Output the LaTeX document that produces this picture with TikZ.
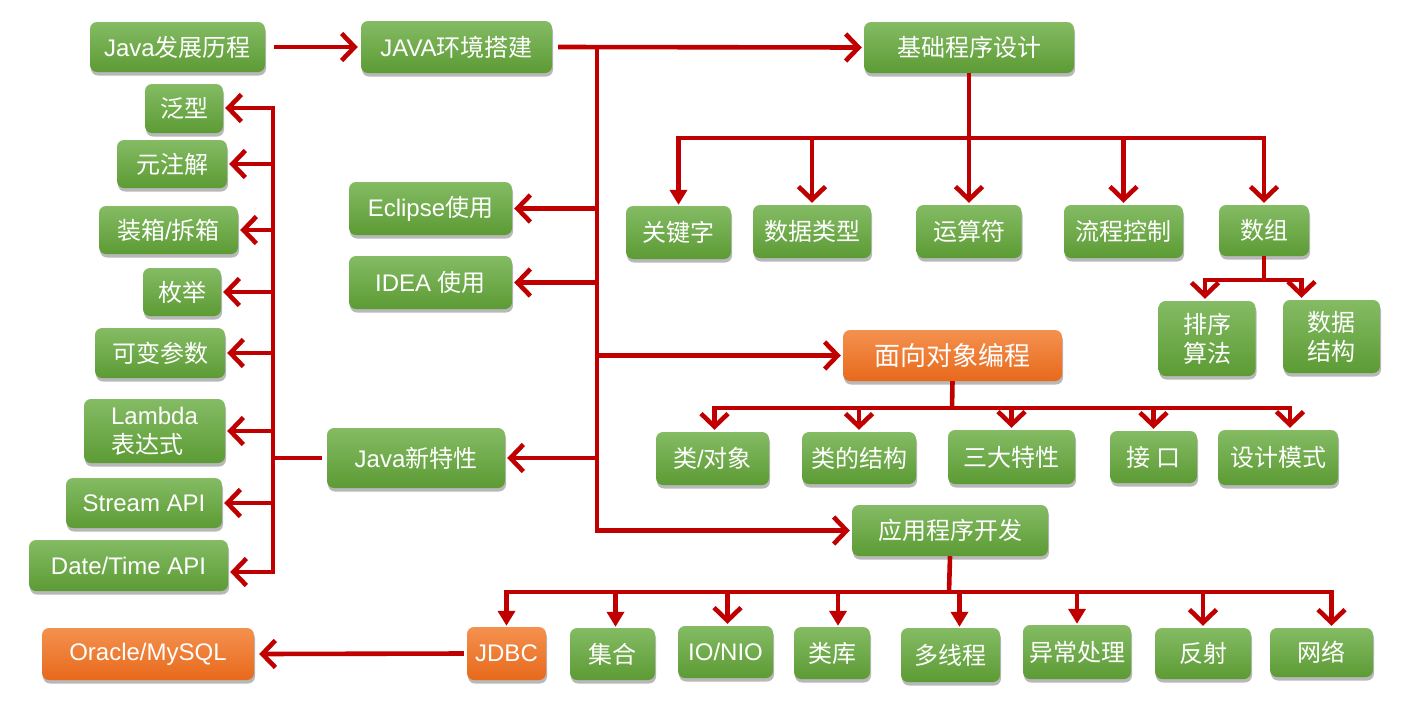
\documentclass[tikz,border=0pt]{standalone}
\usepackage{fontspec}
\setmainfont{Liberation Sans}
\newfontfamily\zhfont{Noto Sans CJK SC}
\newcommand\zh[1]{{\zhfont #1}}
\usetikzlibrary{arrows.meta,shadows}
\definecolor{redline}{HTML}{C00000}
\definecolor{gtop}{HTML}{84BB64}
\definecolor{gbot}{HTML}{5C9B34}
\definecolor{otop}{HTML}{F4914F}
\definecolor{obot}{HTML}{E7691B}
\tikzset{
 box/.style={rounded corners=7pt, top color=gtop, bottom color=gbot, draw=none, text=white,
   inner sep=0pt, align=center, font=\fontsize{24}{29}\selectfont,
   drop shadow={shadow xshift=1pt, shadow yshift=-3.5pt, opacity=0.28, fill=black}},
 obox/.style={box, top color=otop, bottom color=obot},
 wire/.style={draw=redline, line width=4.6pt},
 barb/.style={wire, -{Straight Barb[length=13pt,width=27pt,line width=4.6pt]}, shorten >=2pt},
 tri/.style={wire, -{Triangle[length=15pt,width=17pt]}, shorten >=1pt},
}
\begin{document}
\begin{tikzpicture}[x=1pt,y=-1pt]
\useasboundingbox[fill=white] (0,0) rectangle (1407,705);

% top row
\node[box, minimum width=175pt, minimum height=50pt] (hist) at (177.5,47) {Java\zh{发展历程}};
\node[box, minimum width=191pt, minimum height=52pt] (env) at (456.5,47) {JAVA\zh{环境搭建}};
\node[box, minimum width=210pt, minimum height=51pt] (basic) at (969,47.5) {\zh{基础程序设计}};

% left column
\node[box, minimum width=78pt, minimum height=49pt] (fx) at (184,108.5) {\zh{泛型}};
\node[box, minimum width=110pt, minimum height=48pt] (yzj) at (172,164) {\zh{元注解}};
\node[box, minimum width=139pt, minimum height=48pt] (zx) at (168.5,230) {\zh{装箱}/\zh{拆箱}};
\node[box, minimum width=78pt, minimum height=48pt] (mj) at (182,292) {\zh{枚举}};
\node[box, minimum width=130pt, minimum height=50pt] (kb) at (160,353) {\zh{可变参数}};
\node[box, minimum width=141pt, minimum height=64pt, align=left] (lam) at (154.5,431) {Lambda\\\zh{表达式}};
\node[box, minimum width=156pt, minimum height=50pt] (st) at (144,503) {Stream API};
\node[box, minimum width=199pt, minimum height=51pt] (dt) at (128.5,565.5) {Date/Time API};

% middle column
\node[box, minimum width=163pt, minimum height=53pt] (ecl) at (430.5,208.5) {Eclipse\zh{使用}};
\node[box, minimum width=163pt, minimum height=53pt] (idea) at (430.5,282.5) {IDEA \zh{使用}};
\node[box, minimum width=178pt, minimum height=60pt] (newf) at (416,458) {Java\zh{新特性}};

% basic programming
\node[box, minimum width=105pt, minimum height=53pt] (kw) at (678.5,232.5) {\zh{关键字}};
\node[box, minimum width=118pt, minimum height=53pt] (dtype) at (812,231.5) {\zh{数据类型}};
\node[box, minimum width=105pt, minimum height=53pt] (ops) at (969,231.5) {\zh{运算符}};
\node[box, minimum width=119pt, minimum height=53pt] (flow) at (1123.5,231.5) {\zh{流程控制}};
\node[box, minimum width=90pt, minimum height=51pt] (arr) at (1264,230.5) {\zh{数组}};
\node[box, minimum width=97pt, minimum height=75pt] (sort) at (1207,338.5) {\zh{排序}\\\zh{算法}};
\node[box, minimum width=97pt, minimum height=73pt] (ds) at (1331.5,336.5) {\zh{数据}\\\zh{结构}};

% OOP
\node[obox, minimum width=219pt, minimum height=51pt, font=\fontsize{26}{30}\selectfont] (oop) at (952.5,355.5) {\zh{面向对象编程}};
\node[box, minimum width=113pt, minimum height=53pt] (cls) at (712.5,458.5) {\zh{类}/\zh{对象}};
\node[box, minimum width=114pt, minimum height=52pt] (cstr) at (859,458) {\zh{类的结构}};
\node[box, minimum width=127pt, minimum height=54pt] (three) at (1011.5,457) {\zh{三大特性}};
\node[box, minimum width=87pt, minimum height=52pt] (intf) at (1153.5,457) {\zh{接 口}};
\node[box, minimum width=120pt, minimum height=55pt] (dp) at (1278,457.5) {\zh{设计模式}};

% application development
\node[box, minimum width=196pt, minimum height=51pt] (app) at (950,530.5) {\zh{应用程序开发}};
\node[obox, minimum width=79pt, minimum height=53pt] (jdbc) at (506.5,653.5) {JDBC};
\node[box, minimum width=85pt, minimum height=52pt] (coll) at (612.5,654) {\zh{集合}};
\node[box, minimum width=95pt, minimum height=52pt] (io) at (725.5,652) {IO/NIO};
\node[box, minimum width=76pt, minimum height=52pt] (lib) at (832,653) {\zh{类库}};
\node[box, minimum width=99pt, minimum height=54pt] (thr) at (950.5,655) {\zh{多线程}};
\node[box, minimum width=108pt, minimum height=54pt] (exc) at (1077,652) {\zh{异常处理}};
\node[box, minimum width=96pt, minimum height=51pt] (refl) at (1203,653.5) {\zh{反射}};
\node[box, minimum width=103pt, minimum height=49pt] (net) at (1321.5,652.5) {\zh{网络}};
\node[obox, minimum width=212pt, minimum height=52pt] (ora) at (148,654) {Oracle/MySQL};

% junction coordinates
\coordinate (T1) at (597,47);
\coordinate (L1) at (273,108);
\coordinate (L2) at (273,572);
\coordinate (B1) at (969,138);
\coordinate (A1) at (1264,280);
\coordinate (O1) at (952,408);
\coordinate (P1) at (949,592);

% top connectors
\draw[barb] ([xshift=9pt]hist.east) -- ([xshift=-1pt]env.west);
\draw[barb] ([xshift=6pt]env.east) -- (basic.west);

% main trunk
\draw[barb] (T1) |- (app.west);
\draw[barb] (T1 |- ecl.east) -- (ecl.east);
\draw[barb] (T1 |- idea.east) -- (idea.east);
\draw[barb] (T1 |- newf.east) -- (newf.east);
\draw[barb] (T1 |- oop.west) -- (oop.west);

% new features trunk
\draw[wire] ([xshift=-5pt]newf.west) -- (L1 |- newf.west);
\draw[barb] (L2) -- (L1) -- (L1 -| fx.east);
\draw[barb] (L1) -- (L2) -- (L2 -| dt.east);
\draw[barb] (L1 |- yzj.east) -- (yzj.east);
\draw[barb] (L1 |- zx.east) -- (zx.east);
\draw[barb] (L1 |- mj.east) -- (mj.east);
\draw[barb] (L1 |- kb.east) -- (kb.east);
\draw[barb] (L1 |- lam.east) -- (lam.east);
\draw[barb] (L1 |- st.east) -- (st.east);

% basic programming branches
\draw[barb] (basic.south) -- (ops.north);
\draw[tri] (B1) -| (kw.north);
\draw[barb] (B1) -| (arr.north);
\draw[barb] (B1 -| dtype.north) -- (dtype.north);
\draw[barb] (B1 -| flow.north) -- (flow.north);

% array branches
\draw[wire] (arr.south) -- (A1);
\draw[barb] (A1) -| ([xshift=-2pt]sort.north);
\draw[barb] (A1) -| ([xshift=-30pt]ds.north);

% OOP branches
\draw[wire] (oop.south) -- (O1);
\draw[barb] (O1) -| ([xshift=2pt]cls.north);
\draw[barb] (O1) -| ([xshift=12pt]dp.north);
\draw[barb] (O1 -| cstr.north) -- (cstr.north);
\draw[barb] (O1 -| three.north) -- (three.north);
\draw[barb] (O1 -| intf.north) -- (intf.north);

% application branches
\draw[wire] (app.south) -- (P1);
\draw[tri] (P1) -| (jdbc.north);
\draw[barb] (P1) -| ([xshift=10pt]net.north);
\draw[tri] (P1 -| coll.north) ++(3,0) -- ([xshift=3pt]coll.north);
\draw[barb] (P1 -| io.north) ++(2,0) -- ([xshift=2pt]io.north);
\draw[tri] (P1 -| lib.north) ++(6,0) -- ([xshift=6pt]lib.north);
\draw[tri] (P1 -| thr.north) ++(9,0) -- ([xshift=9pt]thr.north);
\draw[tri] (P1 -| exc.north) -- (exc.north);
\draw[barb] (P1 -| refl.north) -- (refl.north);

% JDBC to database
\draw[barb] ([xshift=-3pt]jdbc.west) -- ([xshift=3pt]ora.east);
\end{tikzpicture}
\end{document}
